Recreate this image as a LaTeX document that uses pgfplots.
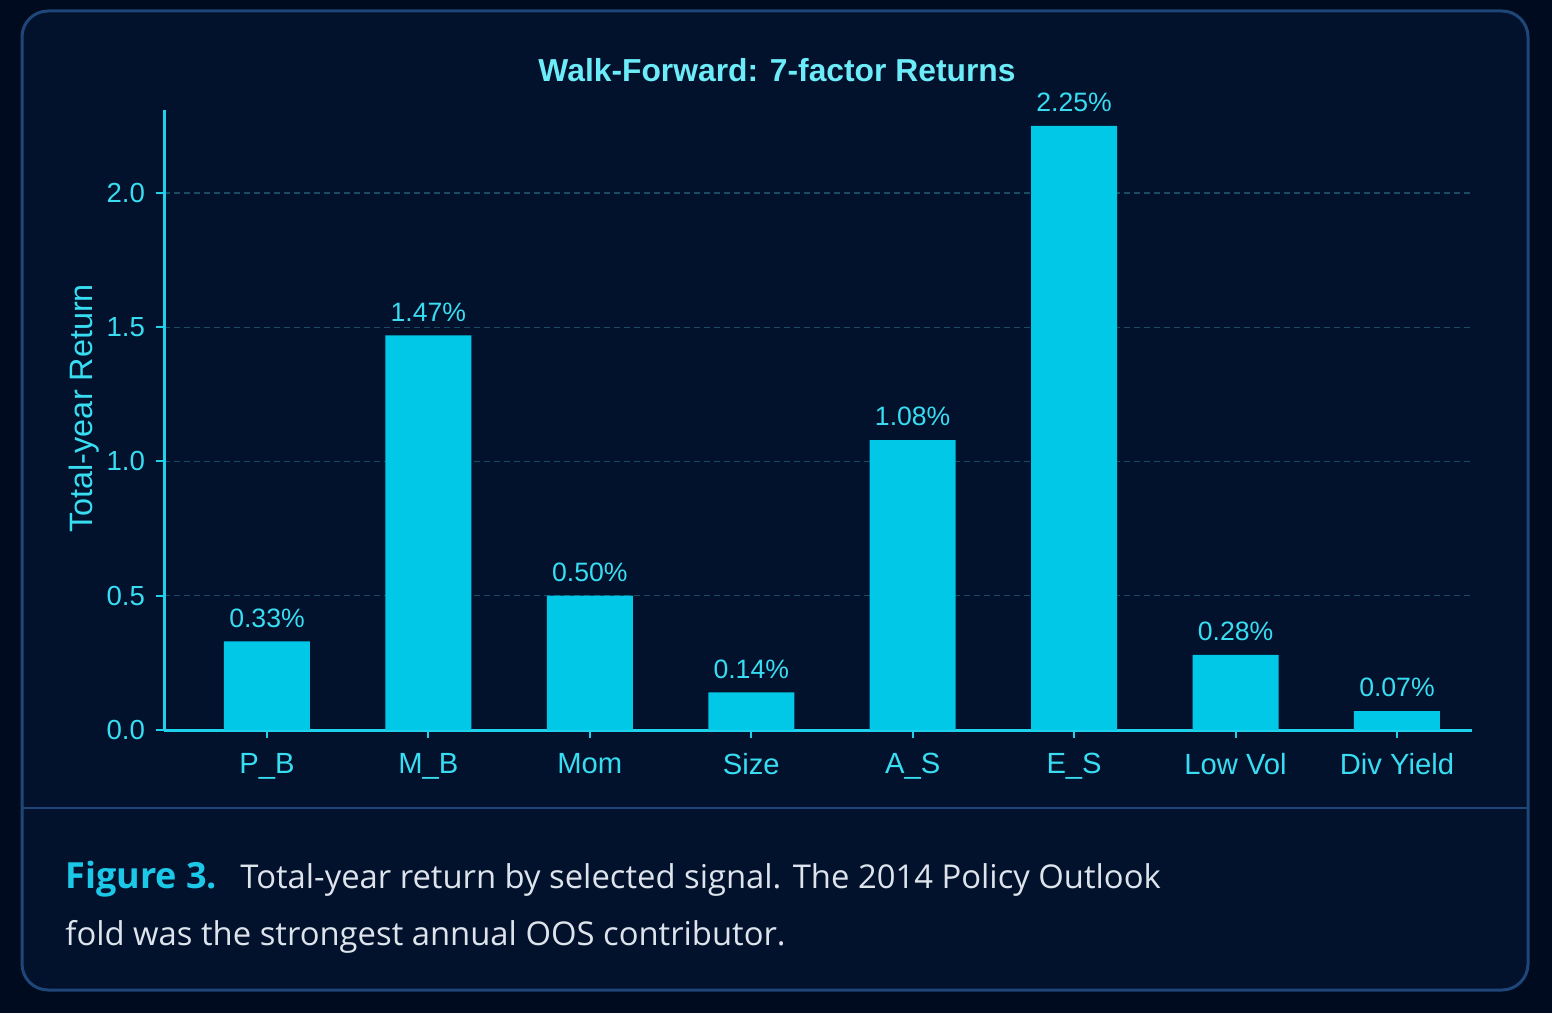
\documentclass[border=0pt]{standalone}
\usepackage{pgfplots}
\pgfplotsset{compat=1.18}
\usepackage{fontspec}
\setmainfont{Liberation Sans}
\newfontfamily\capfont{Open Sans}

\definecolor{outerbg}{HTML}{010B1F}
\definecolor{cardbg}{HTML}{02112C}
\definecolor{cardborder}{HTML}{1E4678}
\definecolor{barcol}{HTML}{00C8E6}
\definecolor{axiscol}{HTML}{1ED2EC}
\definecolor{labelcol}{HTML}{38DDF2}
\definecolor{titlecol}{HTML}{6CEBF8}
\definecolor{gridcol}{HTML}{1B4A63}
\definecolor{captext}{HTML}{DDE4EC}
\definecolor{capfig}{HTML}{1CC8E8}

\begin{document}
\begin{tikzpicture}[x=1pt,y=1pt]
% page and card
\fill[outerbg] (0,0) rectangle (776,506.5);
\filldraw[fill=cardbg, draw=cardborder, line width=1.5pt, rounded corners=13pt]
  (11,11.5) rectangle (764,501);
\draw[cardborder, line width=1.2pt] (11,102.5) -- (764,102.5);

% title
\node[font=\bfseries\fontsize{15.9}{18}\selectfont, text=titlecol]
  at (388.5,471.5) {Walk-Forward: 7-factor Returns};

\begin{axis}[
  at={(82pt,141.5pt)}, anchor=south west,
  scale only axis, width=654pt, height=310pt,
  xmin=-0.638, xmax=7.465, ymin=0, ymax=2.309,
  clip=false,
  axis lines=left,
  axis line style={axiscol, line width=1.5pt, -},
  tick align=outside,
  major tick length=4pt,
  tick style={axiscol, line width=1pt},
  xtick={0,1,2,3,4,5,6,7},
  xticklabels={P\_B, M\_B, Mom, Size, A\_S, E\_S, Low Vol, Div Yield},
  ytick={0,0.5,1,1.5,2},
  /pgf/number format/assume math mode=true,
  ticklabel style={text=labelcol},
  xticklabel style={font=\fontsize{14.6}{17}\selectfont, yshift=-4pt},
  yticklabel style={font=\fontsize{13.8}{16}\selectfont, xshift=-2pt,
    /pgf/number format/fixed, /pgf/number format/fixed zerofill,
    /pgf/number format/precision=1},
  ymajorgrids,
  major grid style={gridcol, dash pattern=on 3pt off 2pt, line width=0.6pt},
  ylabel={Total-year Return},
  ylabel style={at={(axis description cs:-0.061,0.519)}, anchor=center,
    font=\fontsize{16.2}{18}\selectfont, text=labelcol},
  ybar, bar width=43pt,
  nodes near coords={\pgfmathprintnumber[fixed,fixed zerofill,precision=2]{\pgfplotspointmeta}\%},
  every node near coord/.append style={font=\fontsize{13.3}{16}\selectfont,
    text=labelcol, yshift=3.5pt},
]
\addplot[fill=barcol, draw=none] coordinates {
  (0,0.33) (1,1.47) (2,0.50) (3,0.14) (4,1.08) (5,2.25) (6,0.28) (7,0.07)
};
\end{axis}

% caption
\node[anchor=base west, inner sep=0pt, font=\capfont\bfseries\fontsize{18}{20}\selectfont, text=capfig]
  at (32.5,62.5) {Figure 3.};
\node[anchor=base west, inner sep=0pt, font=\capfont\fontsize{16.4}{20}\selectfont, text=captext]
  at (120,62.5) {Total-year return by selected signal. The 2014 Policy Outlook};
\node[anchor=base west, inner sep=0pt, font=\capfont\fontsize{16.4}{20}\selectfont, text=captext]
  at (32.5,34) {fold was the strongest annual OOS contributor.};
\end{tikzpicture}
\end{document}
